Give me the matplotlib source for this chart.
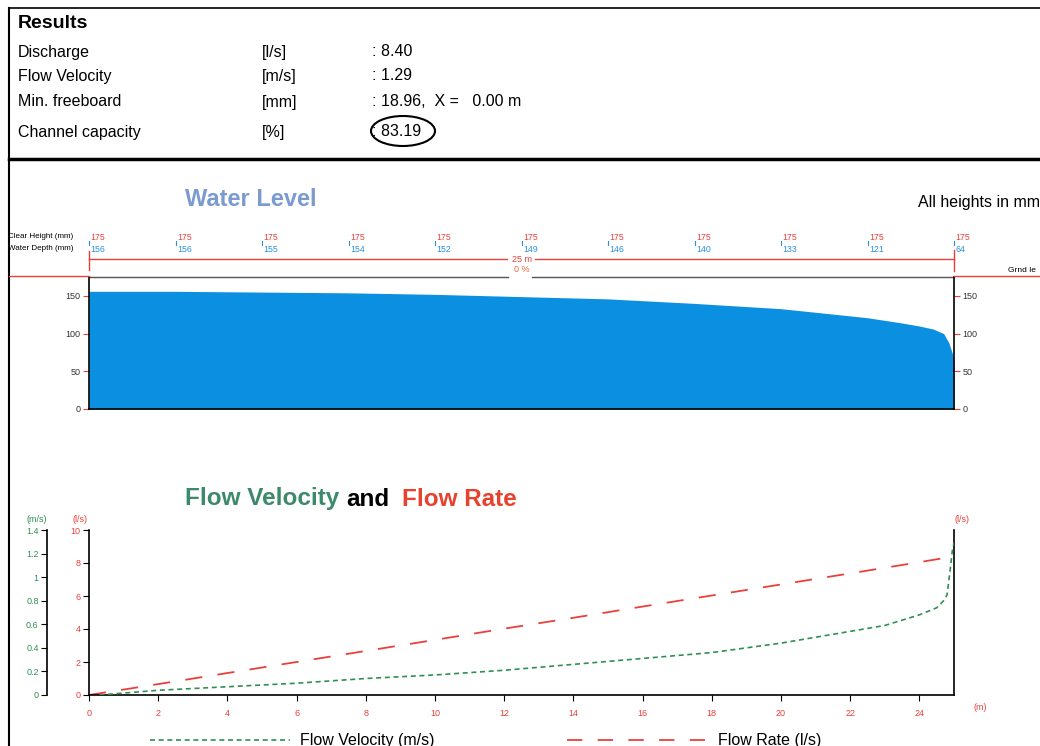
import matplotlib
matplotlib.use("Agg")
import matplotlib.pyplot as plt
from matplotlib.lines import Line2D
from matplotlib.patches import Ellipse
import matplotlib.transforms as mtransforms

plt.rcParams['font.family'] = ['Liberation Sans', 'DejaVu Sans']

# ==============================
# DATA
# ==============================
result_labels = ["Discharge", "Flow Velocity", "Min. freeboard", "Channel capacity"]
result_units = ["[l/s]", "[m/s]", "[mm]", "[%]"]
result_values = [": 8.40", ": 1.29", ": 18.96,  X =   0.00 m", ": 83.19"]

station_m = [0, 2.5, 5, 7.5, 10, 12.5, 15, 17.5, 20, 22.5, 25]
clear_height = [175, 175, 175, 175, 175, 175, 175, 175, 175, 175, 175]
water_depth = [156, 156, 155, 154, 152, 149, 146, 140, 133, 121, 64]

# water surface profile (mm)
profile_x = [0, 2.5, 5, 7.5, 10, 12.5, 15, 17.5, 20, 22.5, 23.5, 24.0, 24.4, 24.7, 24.85, 24.95, 25]
profile_depth = [156, 156, 155, 154, 152, 149, 146, 140, 133, 121, 114, 110, 106, 100, 88, 74, 64]

# flow rate (l/s)
rate_x = [0, 2, 4, 6, 8, 10, 12, 14, 16, 18, 20, 22, 24, 25]
rate_q = [0, 0.66, 1.33, 2.0, 2.67, 3.34, 4.02, 4.68, 5.36, 6.03, 6.7, 7.37, 8.05, 8.40]

# flow velocity (m/s)
vel_x = [0.3, 2, 4, 6, 8, 10, 12, 14, 16, 18, 20, 22, 23, 24, 24.5, 24.7, 24.8, 24.88, 24.95, 25]
vel_v = [0, 0.04, 0.07, 0.10, 0.14, 0.17, 0.21, 0.26, 0.31, 0.36, 0.44, 0.54, 0.59, 0.68,
         0.74, 0.80, 0.85, 1.04, 1.22, 1.29]

q_ticks = [0, 2, 4, 6, 8, 10]
v_ticks = [0, 0.2, 0.4, 0.6, 0.8, 1.0, 1.2, 1.4]
v_tick_labels = ["0", "0.2", "0.4", "0.6", "0.8", "1", "1.2", "1.4"]
x_ticks = [0, 2, 4, 6, 8, 10, 12, 14, 16, 18, 20, 22, 24]

RED = "#e8413c"
BLUE = "#0b8fe0"
GREEN = "#2f8f55"

W, H = 1040, 746


def fx(x):
    return x / W


def fy(y):
    return 1 - y / H


fig = plt.figure(figsize=(W / 100, H / 100), dpi=100)

# ==============================
# FRAME
# ==============================
fig.add_artist(Line2D([fx(9), fx(9)], [fy(8), fy(746)], color="black", lw=1.5))
fig.add_artist(Line2D([fx(9), fx(1040)], [fy(8), fy(8)], color="black", lw=1.2))
fig.add_artist(Line2D([fx(9), fx(1040)], [fy(159), fy(159)], color="black", lw=2.5))

# ==============================
# RESULTS
# ==============================
fig.text(fx(18), fy(24), "Results", fontsize=14, fontweight="bold", va="center")
rows_y = [52, 76, 102, 132]
for lab, unit, val, y in zip(result_labels, result_units, result_values, rows_y):
    fig.text(fx(18), fy(y), lab, fontsize=11.5, va="center")
    fig.text(fx(262), fy(y), unit, fontsize=11.5, va="center")
    fig.text(fx(372), fy(y), val, fontsize=11.5, va="center")
fig.add_artist(Ellipse((fx(403), fy(131)), 64 / W, 30 / H, transform=fig.transFigure,
                       fill=False, edgecolor="black", lw=1.5))

# ==============================
# WATER LEVEL
# ==============================
fig.text(fx(185), fy(200), "Water Level", fontsize=17, fontweight="bold",
         color="#7b9ad0", va="center")
fig.text(fx(918), fy(203), "All heights in mm", fontsize=11.5, va="center")

ax_wl = fig.add_axes([fx(89), fy(409), 865 / W, 132 / H])
ax_wl.fill_between(profile_x, 0, profile_depth, color=BLUE, lw=0)
ax_wl.set_xlim(0, 25)
ax_wl.set_ylim(0, 175)
ax_wl.set_xticks([])
ax_wl.set_yticks([0, 50, 100, 150])
ax_wl.yaxis.set_ticks_position("both")
ax_wl.tick_params(axis="y", labelleft=True, labelright=True, color=RED, length=4,
                  labelsize=6.5, labelcolor="#333333", pad=2)
ax_wl.spines["top"].set_visible(False)
for s in ["left", "right", "bottom"]:
    ax_wl.spines[s].set_linewidth(1.2)

tr = mtransforms.blended_transform_factory(ax_wl.transData, fig.transFigure)
fig.text(fx(8), fy(237), "Clear Height (mm)", fontsize=5.8, va="center")
fig.text(fx(8), fy(249), "Water Depth (mm)", fontsize=5.8, va="center")
for d, ch, wd in zip(station_m, clear_height, water_depth):
    ax_wl.text(d + 0.05, fy(237), str(ch), transform=tr, fontsize=6.3, color=RED,
               va="center", ha="left", clip_on=False)
    ax_wl.text(d + 0.05, fy(249), str(wd), transform=tr, fontsize=6.3, color="#2a90e0",
               va="center", ha="left", clip_on=False)
    ax_wl.add_line(Line2D([d, d], [fy(241), fy(245)], transform=tr, color="#2a90e0",
                          lw=0.8, clip_on=False))

# dimension line
ax_wl.add_line(Line2D([0, 12.08], [fy(259), fy(259)], transform=tr, color=RED, lw=1, clip_on=False))
ax_wl.add_line(Line2D([12.89, 25], [fy(259), fy(259)], transform=tr, color=RED, lw=1, clip_on=False))
ax_wl.add_line(Line2D([0, 0], [fy(251), fy(270)], transform=tr, color=RED, lw=1, clip_on=False))
ax_wl.add_line(Line2D([25, 25], [fy(250), fy(271)], transform=tr, color=RED, lw=1, clip_on=False))
ax_wl.text(12.5, fy(259), "25 m", transform=tr, fontsize=6.5, color=RED, ha="center", va="center")
ax_wl.text(12.5, fy(270), "0 %", transform=tr, fontsize=6.5, color="#f0643c", ha="center", va="center")
ax_wl.add_line(Line2D([0, 12.1], [fy(276.5), fy(276.5)], transform=tr, color="#555555", lw=1, clip_on=False))
ax_wl.add_line(Line2D([12.8, 25], [fy(276.5), fy(276.5)], transform=tr, color="#555555", lw=1, clip_on=False))

# ground level
fig.add_artist(Line2D([fx(9), fx(89)], [fy(276), fy(276)], color=RED, lw=1))
fig.add_artist(Line2D([fx(954), fx(1040)], [fy(276), fy(276)], color=RED, lw=1))
fig.text(fx(1008), fy(270), "Grnd le", fontsize=6, va="center")

# ==============================
# FLOW VELOCITY AND FLOW RATE
# ==============================
fig.text(fx(185), fy(499), "Flow Velocity", fontsize=17.5, fontweight="bold",
         color="#3c8a6b", va="center")
fig.text(fx(346), fy(499), "and", fontsize=17.5, fontweight="bold", color="black", va="center")
fig.text(fx(402), fy(499), "Flow Rate", fontsize=17.5, fontweight="bold",
         color="#e8412c", va="center")

ax_q = fig.add_axes([fx(89), fy(695), 865 / W, 165 / H])
ax_q.plot(rate_x, rate_q, color=RED, lw=1.3, dashes=(9.5, 8.5))
ax_q.set_xlim(0, 25)
ax_q.set_ylim(0, 10)
ax_q.set_xticks(x_ticks)
ax_q.set_yticks(q_ticks)
ax_q.yaxis.set_ticks_position("both")
ax_q.tick_params(axis="y", labelleft=True, labelright=True, length=4, labelsize=6.5,
                 labelcolor=RED, pad=2)
ax_q.tick_params(axis="x", length=4, labelsize=6.5, labelcolor=RED, pad=6)
ax_q.spines["top"].set_visible(False)
for s in ["left", "right", "bottom"]:
    ax_q.spines[s].set_linewidth(1.2)

ax_v = ax_q.twinx()
ax_v.plot(vel_x, vel_v, color=GREEN, lw=1.2, dashes=(3, 2.2))
ax_v.set_ylim(0, 1.4)
ax_v.yaxis.set_ticks_position("left")
ax_v.spines["left"].set_position(("axes", -42 / 865))
ax_v.spines["left"].set_visible(True)
ax_v.spines["left"].set_linewidth(1.2)
for s in ["right", "top", "bottom"]:
    ax_v.spines[s].set_visible(False)
ax_v.set_yticks(v_ticks)
ax_v.set_yticklabels(v_tick_labels)
ax_v.tick_params(axis="y", length=4, labelsize=6.5, labelcolor=GREEN, pad=2)

fig.text(fx(37), fy(520), "(m/s)", fontsize=6.5, color=GREEN, ha="center", va="center")
fig.text(fx(80), fy(520), "(l/s)", fontsize=6.5, color=RED, ha="center", va="center")
fig.text(fx(962), fy(520), "(l/s)", fontsize=6.5, color=RED, ha="center", va="center")
fig.text(fx(980), fy(708), "(m)", fontsize=6.5, color=RED, ha="center", va="center")

# legend
fig.add_artist(Line2D([fx(150), fx(290)], [fy(740), fy(740)], color=GREEN, lw=1.2, dashes=(3, 2.2)))
fig.text(fx(300), fy(740), "Flow Velocity (m/s)", fontsize=11.5, va="center")
fig.add_artist(Line2D([fx(567), fx(705)], [fy(740), fy(740)], color=RED, lw=1.3, dashes=(8.5, 8.5)))
fig.text(fx(718), fy(740), "Flow Rate (l/s)", fontsize=11.5, va="center")

fig.savefig("out.png", dpi=100)
